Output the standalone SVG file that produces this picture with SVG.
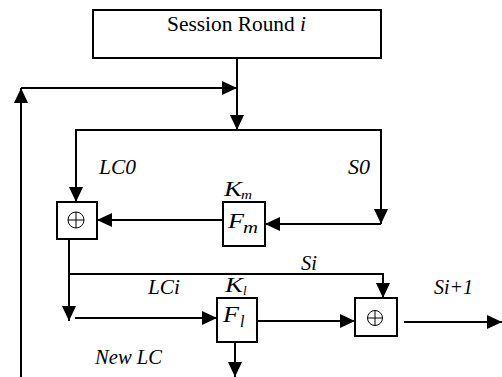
<svg xmlns="http://www.w3.org/2000/svg" width="502" height="377" viewBox="0 0 502 377">
<style>
.box{fill:#fff;stroke:#000;stroke-width:2}
.ln{fill:none;stroke:#000;stroke-width:2}
.thin{fill:none;stroke:#000;stroke-width:1}
text{fill:#000}
.it{font-style:italic}
</style>
<defs>
<marker id="ah" markerUnits="userSpaceOnUse" markerWidth="16" markerHeight="14" refX="15" refY="7" orient="auto">
<path d="M0,0 L15,7 L0,14 Z" fill="#000"/>
</marker>
</defs>
<g id="connectors">
<path class="ln" d="M237,58 V130" marker-end="url(#ah)"/>
<path class="ln" d="M21,377 V88" marker-end="url(#ah)"/>
<path class="ln" d="M21,88 H237" marker-end="url(#ah)"/>
<path class="ln" d="M237,130 H76 V202" marker-end="url(#ah)"/>
<path class="ln" d="M237,130 H381 V224" marker-end="url(#ah)"/>
<path class="ln" d="M381,224 H265" marker-end="url(#ah)"/>
<path class="ln" d="M223,220 H97" marker-end="url(#ah)"/>
<path class="ln" d="M69,239 V321" marker-end="url(#ah)"/>
<path class="ln" d="M75,318 H217" marker-end="url(#ah)"/>
<path class="ln" d="M69,274 H383 V298" marker-end="url(#ah)"/>
<path class="ln" d="M257,321 H355" marker-end="url(#ah)"/>
<path class="ln" d="M404,322 H502" marker-end="url(#ah)"/>
<path class="ln" d="M235,342 V377" marker-end="url(#ah)"/>
</g>
<g font-family="Liberation Serif, Times New Roman, serif">
<g id="session">
<rect class="box" x="93" y="10" width="288" height="48"/>
<text x="167" y="31" font-size="20" textLength="139" lengthAdjust="spacingAndGlyphs">Session Round <tspan class="it">i</tspan></text>
</g>
<g id="xor1">
<rect class="box" x="57" y="202" width="40" height="37"/>
<circle class="thin" cx="76" cy="220" r="8"/>
<path class="thin" d="M68,220 H84 M76,212 V228"/>
</g>
<g id="fm">
<rect class="box" x="223" y="202" width="42" height="44"/>
<text class="it" x="228" y="228" font-size="22" textLength="16" lengthAdjust="spacingAndGlyphs">F</text>
<text class="it" x="243" y="233" font-size="17" textLength="15" lengthAdjust="spacingAndGlyphs">m</text>
</g>
<g id="fl">
<rect class="box" x="217" y="298" width="40" height="44"/>
<text class="it" x="223" y="322" font-size="23" textLength="16" lengthAdjust="spacingAndGlyphs">F</text>
<text class="it" x="240" y="327" font-size="16">l</text>
</g>
<g id="xor2">
<rect class="box" x="355" y="298" width="42" height="38"/>
<circle class="thin" cx="375" cy="318" r="7.5"/>
<path class="thin" d="M367.5,318 H382.5 M375,310.5 V325.5"/>
</g>
<g id="labels" font-size="20">
<text class="it" x="99" y="174" textLength="37" lengthAdjust="spacingAndGlyphs">LC0</text>
<text class="it" x="348" y="174" textLength="22" lengthAdjust="spacingAndGlyphs">S0</text>
<text class="it" x="224" y="196" textLength="18" lengthAdjust="spacingAndGlyphs">K</text>
<text class="it" x="241" y="199" font-size="13" textLength="11" lengthAdjust="spacingAndGlyphs">m</text>
<text class="it" x="301" y="270" textLength="16" lengthAdjust="spacingAndGlyphs">Si</text>
<text class="it" x="148" y="294" textLength="32" lengthAdjust="spacingAndGlyphs">LCi</text>
<text class="it" x="225" y="292" textLength="18" lengthAdjust="spacingAndGlyphs">K</text>
<text class="it" x="243" y="295" font-size="13">l</text>
<text class="it" x="434" y="294" textLength="39" lengthAdjust="spacingAndGlyphs">Si+1</text>
<text class="it" x="95" y="364" textLength="67" lengthAdjust="spacingAndGlyphs">New LC</text>
</g>
</g>
</svg>
